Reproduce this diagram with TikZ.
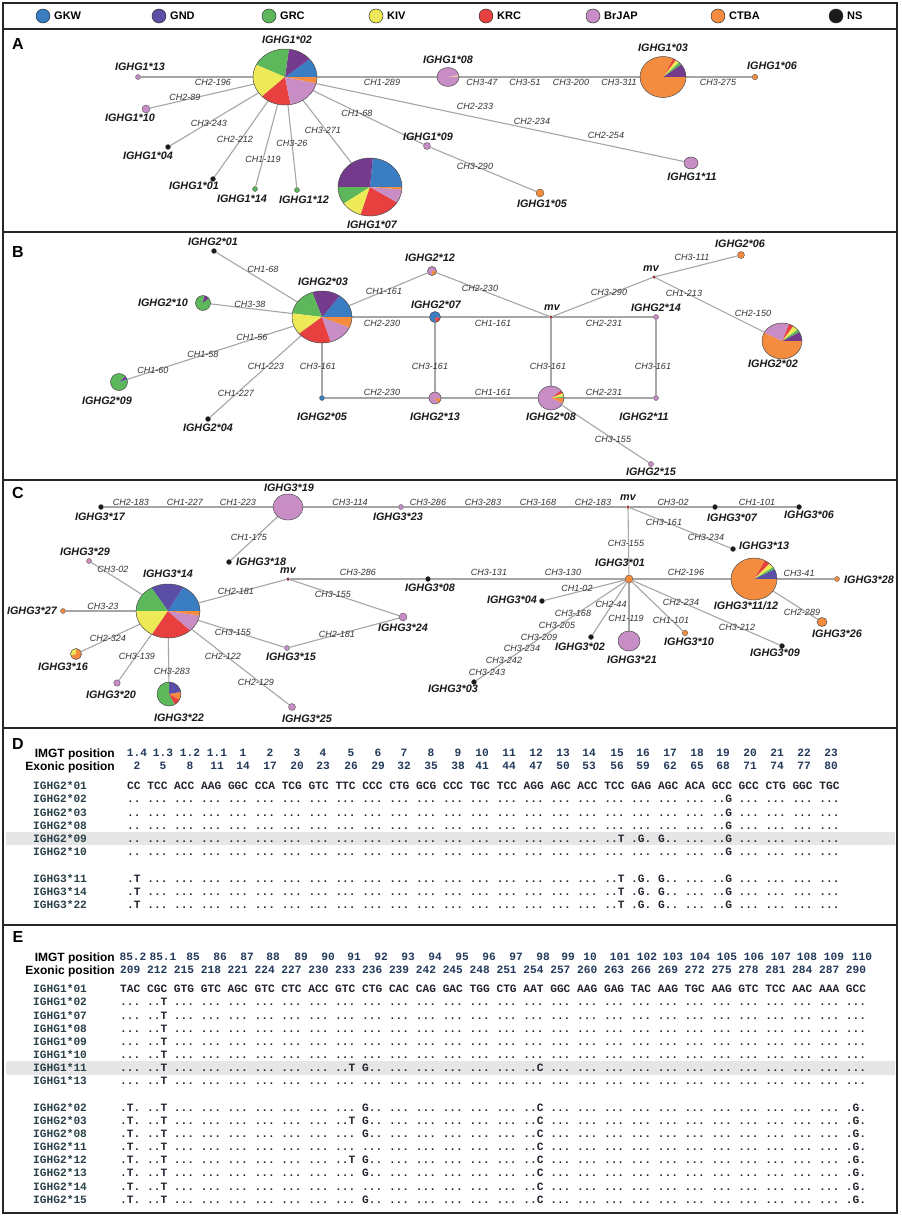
\documentclass[tikz,border=0pt]{standalone}
\usepackage{fontspec}
\setmainfont{Liberation Sans}
\setsansfont{Liberation Sans}
\setmonofont{Liberation Mono}
\usetikzlibrary{shapes.geometric}
\definecolor{cGKW}{HTML}{3A7DC2}
\definecolor{cGND}{HTML}{5B4EA6}
\definecolor{cGNDb}{HTML}{743A8C}
\definecolor{cGRC}{HTML}{5CB85A}
\definecolor{cKIV}{HTML}{EDE957}
\definecolor{cKRC}{HTML}{E8403E}
\definecolor{cBrJAP}{HTML}{C98DC6}
\definecolor{cCTBA}{HTML}{F48C40}
\definecolor{cNS}{HTML}{1A1A1A}
\definecolor{cmv}{HTML}{D42020}
\definecolor{cSeq}{HTML}{23232F}
\definecolor{cName}{HTML}{2A4048}
\definecolor{cNum}{HTML}{22395A}
\definecolor{cBand}{HTML}{E6E6E6}
\newcommand\drawpie[4]{%
  \foreach \pa/\pb/\pc in {#4}{\fill[\pc] (#1.center) -- ++(\pa:#2 and #3) arc[start angle=\pa, end angle=\pb, x radius=#2, y radius=#3] -- cycle;}
  \draw[pieline] (#1.center) ellipse[x radius=#2, y radius=#3];}
\newcommand\sev{... ... ... ... ... ... ...}
\newcommand\rowDA{.. \sev{} \sev{} \sev{} ..G ... ... ... ...}
\newcommand\rowDB{.. \sev{} \sev{} ... ... ... ..T .G. G.. ... ..G ... ... ... ...}
\newcommand\rowDC{.T \sev{} \sev{} ... ... ... ..T .G. G.. ... ..G ... ... ... ...}
\newcommand\rowEg{... ..T \sev{} \sev{} \sev{} ... ... ... ... ...}
\newcommand\rowEb{... ..T ... ... ... ... ... ... ..T G.. ... ... ... ... ... ..C \sev{} ... ... ... ... ...}
\newcommand\rowEa{.T. ..T \sev{} G.. ... ... ... ... ... ..C \sev{} ... ... ... ... .G.}
\newcommand\rowEd{.T. ..T ... ... ... ... ... ... ..T G.. ... ... ... ... ... ..C \sev{} ... ... ... ... .G.}
\newcommand\rowEc{.T. ..T \sev{} ... ... ... ... ... ... ..C \sev{} ... ... ... ... .G.}
\begin{document}
\begin{tikzpicture}[x=1pt,y=-1pt,
  conn/.style={draw=black!35, line width=1.1pt},
  pframe/.style={draw=black!85, line width=1.6pt},
  dotn/.style={circle, inner sep=0pt, draw=black!70, line width=0.35pt, fill=#1},
  pienode/.style 2 args={ellipse, inner sep=0pt, minimum width=#1, minimum height=#2},
  pieline/.style={draw=black!70, line width=0.5pt},
  nl/.style={font=\sffamily\bfseries\itshape\fontsize{10.8}{12}\selectfont, text=black!90, inner sep=0pt},
  el/.style={font=\sffamily\itshape\fontsize{9}{10}\selectfont, text=black!80, inner sep=0pt},
  plab/.style={font=\sffamily\bfseries\fontsize{16}{18}\selectfont, inner sep=0pt},
  legtext/.style={font=\sffamily\bfseries\fontsize{11}{12}\selectfont, inner sep=0pt, anchor=west},
  legdot/.style={circle, inner sep=0pt, minimum size=14pt, draw=black!80, line width=0.5pt},
  seq/.style={font=\ttfamily\bfseries\fontsize{11.2}{13}\selectfont, inner sep=0pt, anchor=base west, text=cSeq},
  rname/.style={seq, text=cName},
  num/.style={font=\ttfamily\bfseries\fontsize{11.2}{13}\selectfont, inner sep=0pt, anchor=base, text=cNum},
  head/.style={font=\sffamily\bfseries\fontsize{12}{14}\selectfont, inner sep=0pt, anchor=base east}
]
\useasboundingbox (0,0) rectangle (902,1216);
\fill[white] (0,0) rectangle (902,1216);
% frames
\draw[pframe] (3,3) rectangle (897,1213);
\foreach \yy in {29,232,480,728,925} \draw[pframe] (3,\yy) -- (897,\yy);
% legend
\foreach \xx/\cc/\tt [count=\i] in {43/cGKW/GKW,159/cGND/GND,269/cGRC/GRC,376/cKIV/KIV,486/cKRC/KRC,593/cBrJAP/BrJAP,718/cCTBA/CTBA,836/cNS/NS}{
  \node[legdot, fill=\cc] (leg\i) at (\xx,16) {};
  \node[legtext] (legt\i) at (\xx+11,16) {\tt};
}
% panel letters
\node[plab] (pA) at (18,44) {A};
\node[plab] (pB) at (18,252) {B};
\node[plab] (pC) at (18,493) {C};
\node[plab] (pD) at (18,744) {D};
\node[plab] (pE) at (18,937) {E};

%%%%%%%% Panel A
\node[pienode={64pt}{56pt}] (g102) at (285,77) {};
\node[dotn=cBrJAP, minimum size=5pt] (g113) at (138,77) {};
\node[dotn=cBrJAP, minimum size=8pt] (g110) at (146,109) {};
\node[dotn=cNS, minimum size=5pt] (g104) at (168,147) {};
\node[dotn=cNS, minimum size=5pt] (g101) at (213,179) {};
\node[dotn=cGRC, minimum size=5pt] (g114) at (255,189) {};
\node[dotn=cGRC, minimum size=5pt] (g112) at (297,190) {};
\node[pienode={64pt}{58pt}] (g107) at (370,187) {};
\node[pienode={22pt}{19pt}] (g108) at (448,77) {};
\node[pienode={46pt}{41pt}] (g103) at (663,77) {};
\node[dotn=cCTBA, minimum size=5.5pt] (g106) at (755,77) {};
\node[dotn=cBrJAP, minimum size=7pt] (g109) at (427,146) {};
\node[dotn=cCTBA, minimum size=8pt] (g105) at (540,193) {};
\node[pienode={14pt}{12pt}] (g111) at (691,163) {};
\foreach \a/\b in {g102/g113,g102/g110,g102/g104,g102/g101,g102/g114,g102/g112,g102/g107,g102/g108,g108/g103,g103/g106,g102/g109,g109/g105,g102/g111}
  \draw[conn] (\a) -- (\b);
\drawpie{g102}{32pt}{28pt}{0/40/cGKW,40/83/cGNDb,83/154/cGRC,154/224/cKIV,224/280/cKRC,280/347/cBrJAP,347/360/cCTBA}
\drawpie{g107}{32pt}{29pt}{0/85/cGKW,85/180/cGNDb,180/215/cGRC,215/253/cKIV,253/328/cKRC,328/355/cBrJAP,355/360/cCTBA}
\drawpie{g108}{11pt}{9.5pt}{0/5/cBrJAP,5/12/cKIV,12/360/cBrJAP}
\drawpie{g103}{23pt}{20.5pt}{0/38/cGNDb,38/46/cGRC,46/56/cKIV,56/64/cKRC,64/360/cCTBA}
\drawpie{g111}{7pt}{6pt}{0/360/cBrJAP}
\foreach \xx/\yy/\tt [count=\i] in {287/40/IGHG1*02,140/67/IGHG1*13,130/118/IGHG1*10,148/156/IGHG1*04,194/186/IGHG1*01,242/199/IGHG1*14,304/200/IGHG1*12,372/225/IGHG1*07,448/60/IGHG1*08,663/48/IGHG1*03,772/66/IGHG1*06,428/137/IGHG1*09,542/204/IGHG1*05,692/177/IGHG1*11}
  \node[nl] (nlA\i) at (\xx,\yy) {\tt};
\foreach \xx/\yy/\tt [count=\i] in {213/82/CH2-196,185/97/CH2-89,209/123/CH3-243,235/139/CH2-212,263/159/CH1-119,292/143/CH3-26,323/130/CH3-271,357/113/CH1-68,382/82/CH1-289,482/82/CH3-47,525/82/CH3-51,571/82/CH3-200,619/82/CH3-311,718/82/CH3-275,475/106/CH2-233,532/121/CH2-234,606/135/CH2-254,475/166/CH3-290}
  \node[el] (elA\i) at (\xx,\yy) {\tt};

%%%%%%%% Panel B
\node[pienode={60pt}{52pt}] (g203) at (322,317) {};
\node[dotn=cNS, minimum size=5pt] (g201) at (214,251) {};
\node[pienode={15pt}{15pt}] (g210) at (203,303) {};
\node[pienode={17pt}{17pt}] (g209) at (119,382) {};
\node[dotn=cNS, minimum size=5pt] (g204) at (208,419) {};
\node[dotn=cGKW, minimum size=5pt] (g205) at (322,398) {};
\node[pienode={12pt}{12pt}] (g213) at (435,398) {};
\node[pienode={11pt}{11pt}] (g207) at (435,317) {};
\node[pienode={9pt}{9pt}] (g212) at (432,271) {};
\node[dotn=cmv, minimum size=3pt] (mvB1) at (551,317) {};
\node[dotn=cBrJAP, minimum size=5pt] (g214) at (656,317) {};
\node[dotn=cBrJAP, minimum size=5pt] (g211) at (656,398) {};
\node[pienode={26pt}{24pt}] (g208) at (551,398) {};
\node[dotn=cBrJAP, minimum size=5pt] (g215) at (651,464) {};
\node[dotn=cmv, minimum size=3pt] (mvB2) at (654,277) {};
\node[dotn=cCTBA, minimum size=7pt] (g206) at (741,255) {};
\node[pienode={40pt}{36pt}] (g202) at (782,341) {};
\foreach \a/\b in {g203/g201,g203/g210,g203/g209,g203/g204,g203/g205,g203/g212,g203/g207,g205/g213,g207/g213,g212/mvB1,g207/mvB1,mvB1/mvB2,mvB1/g214,mvB1/g208,g214/g211,g213/g208,g208/g211,g208/g215,mvB2/g206,mvB2/g202}
  \draw[conn] (\a) -- (\b);
\drawpie{g203}{30pt}{26pt}{0/54/cGKW,54/109/cGNDb,109/172/cGRC,172/220/cKIV,220/287/cKRC,287/336/cBrJAP,336/360/cCTBA}
\drawpie{g210}{7.5pt}{7.5pt}{0/40/cGRC,40/85/cGNDb,85/360/cGRC}
\drawpie{g209}{8.5pt}{8.5pt}{0/15/cGRC,15/22/cGKW,22/45/cGNDb,45/360/cGRC}
\drawpie{g213}{6pt}{6pt}{0/300/cBrJAP,300/355/cCTBA,355/360/cBrJAP}
\drawpie{g207}{5.5pt}{5.5pt}{0/280/cGKW,280/350/cKRC,350/360/cGKW}
\drawpie{g212}{4.5pt}{4.5pt}{0/270/cBrJAP,270/360/cCTBA}
\drawpie{g208}{13pt}{12pt}{0/8/cGRC,8/25/cKIV,25/40/cKRC,40/335/cBrJAP,335/360/cCTBA}
\drawpie{g202}{20pt}{18pt}{0/30/cGNDb,30/40/cGRC,40/56/cKIV,56/70/cKRC,70/153/cBrJAP,153/360/cCTBA}
\foreach \xx/\yy/\tt [count=\i] in {213/242/IGHG2*01,323/282/IGHG2*03,163/303/IGHG2*10,107/401/IGHG2*09,208/428/IGHG2*04,322/417/IGHG2*05,435/417/IGHG2*13,436/305/IGHG2*07,430/258/IGHG2*12,552/308/mv,656/308/IGHG2*14,644/417/IGHG2*11,551/417/IGHG2*08,651/472/IGHG2*15,651/269/mv,740/244/IGHG2*06,773/364/IGHG2*02}
  \node[nl] (nlB\i) at (\xx,\yy) {\tt};
\foreach \xx/\yy/\tt [count=\i] in {263/269/CH1-68,250/304/CH3-38,252/337/CH1-56,203/354/CH1-58,153/370/CH1-60,266/366/CH1-223,236/393/CH1-227,318/366/CH3-161,384/291/CH1-161,382/323/CH2-230,382/392/CH2-230,430/366/CH3-161,480/288/CH2-230,493/323/CH1-161,493/392/CH1-161,609/292/CH3-290,604/323/CH2-231,604/392/CH2-231,548/366/CH3-161,653/366/CH3-161,613/439/CH3-155,692/257/CH3-111,684/293/CH1-213,753/313/CH2-150}
  \node[el] (elB\i) at (\xx,\yy) {\tt};

%%%%%%%% Panel C
\node[dotn=cNS, minimum size=5pt] (g317) at (101,507) {};
\node[pienode={30pt}{26pt}] (g319) at (288,507) {};
\node[dotn=cBrJAP, minimum size=5pt] (g323) at (401,507) {};
\node[dotn=cmv, minimum size=3pt] (mvC1) at (628,507) {};
\node[dotn=cNS, minimum size=5pt] (g307) at (715,507) {};
\node[dotn=cNS, minimum size=5pt] (g306) at (799,507) {};
\node[dotn=cNS, minimum size=5pt] (g313) at (733,549) {};
\node[dotn=cCTBA, minimum size=8pt] (g301) at (629,579) {};
\node[dotn=cNS, minimum size=5pt] (g308) at (428,579) {};
\node[dotn=cmv, minimum size=3pt] (mvC2) at (288,579) {};
\node[dotn=cBrJAP, minimum size=8pt] (g324) at (403,617) {};
\node[dotn=cBrJAP, minimum size=5pt] (g315) at (287,648) {};
\node[pienode={64pt}{54pt}] (g314) at (168,611) {};
\node[dotn=cBrJAP, minimum size=5pt] (g329) at (89,561) {};
\node[dotn=cCTBA, minimum size=5pt] (g327) at (63,611) {};
\node[pienode={11pt}{11pt}] (g316) at (76,654) {};
\node[dotn=cBrJAP, minimum size=6.5pt] (g320) at (117,683) {};
\node[pienode={24pt}{24pt}] (g322) at (169,694) {};
\node[dotn=cBrJAP, minimum size=7pt] (g325) at (292,707) {};
\node[dotn=cNS, minimum size=5pt] (g318) at (229,562) {};
\node[dotn=cNS, minimum size=5pt] (g304) at (542,601) {};
\node[dotn=cNS, minimum size=5pt] (g303) at (474,682) {};
\node[dotn=cNS, minimum size=5pt] (g302) at (591,637) {};
\node[pienode={22pt}{20pt}] (g321) at (629,641) {};
\node[dotn=cCTBA, minimum size=5.5pt] (g310) at (685,633) {};
\node[dotn=cNS, minimum size=5pt] (g309) at (782,646) {};
\node[pienode={46pt}{42pt}] (g311) at (754,579) {};
\node[dotn=cCTBA, minimum size=5pt] (g328) at (837,579) {};
\node[pienode={10pt}{9pt}] (g326) at (822,622) {};
\foreach \a/\b in {g317/g319,g319/g323,g323/mvC1,mvC1/g307,g307/g306,mvC1/g313,mvC1/g301,g319/g318,g308/g301,mvC2/g308,g314/mvC2,mvC2/g324,g314/g315,g315/g324,g314/g329,g314/g327,g314/g316,g314/g320,g314/g322,g314/g325,g301/g304,g301/g303,g301/g302,g301/g321,g301/g310,g301/g309,g301/g311,g311/g328,g311/g326}
  \draw[conn] (\a) -- (\b);
\drawpie{g319}{15pt}{13pt}{0/360/cBrJAP}
\drawpie{g314}{32pt}{27pt}{0/62/cGKW,62/121/cGND,121/180/cGRC,180/240/cKIV,240/314/cKRC,314/350/cBrJAP,350/360/cCTBA}
\drawpie{g316}{5.5pt}{5.5pt}{0/90/cCTBA,90/200/cKIV,200/360/cCTBA}
\drawpie{g322}{12pt}{12pt}{-30/10/cCTBA,10/90/cGND,90/300/cGRC,300/330/cKRC}
\drawpie{g321}{11pt}{10pt}{0/360/cBrJAP}
\drawpie{g311}{23pt}{21pt}{0/28/cGND,28/35/cGRC,35/48/cKIV,48/62/cKRC,62/360/cCTBA}
\drawpie{g326}{5pt}{4.5pt}{0/360/cCTBA}
\foreach \xx/\yy/\tt [count=\i] in {100/517/IGHG3*17,289/488/IGHG3*19,398/517/IGHG3*23,628/498/mv,732/518/IGHG3*07,809/515/IGHG3*06,620/563/IGHG3*01,430/588/IGHG3*08,288/571/mv,403/628/IGHG3*24,291/657/IGHG3*15,168/574/IGHG3*14,85/552/IGHG3*29,32/611/IGHG3*27,63/667/IGHG3*16,111/695/IGHG3*20,179/718/IGHG3*22,307/719/IGHG3*25,512/600/IGHG3*04,453/689/IGHG3*03,580/647/IGHG3*02,632/660/IGHG3*21,689/642/IGHG3*10,775/653/IGHG3*09,869/580/IGHG3*28,837/634/IGHG3*26}
  \node[nl] (nlC\i) at (\xx,\yy) {\tt};
\node[nl] (nlC1112) at (746,606) {IGHG3*11/12};
\node[nl, anchor=west] (nlC13) at (739,546) {IGHG3*13};
\node[nl, anchor=west] (nlC18) at (236,562) {IGHG3*18};
\foreach \xx/\yy/\tt [count=\i] in {131/502/CH2-183,185/502/CH1-227,238/502/CH1-223,350/502/CH3-114,428/502/CH3-286,483/502/CH3-283,538/502/CH3-168,593/502/CH2-183,673/502/CH3-02,757/502/CH1-101,664/522/CH3-161,706/537/CH3-234,626/543/CH3-155,249/537/CH1-175,113/569/CH3-02,103/606/CH3-23,108/638/CH2-324,137/656/CH3-139,172/671/CH3-283,223/656/CH2-122,256/682/CH2-129,236/591/CH2-181,358/572/CH3-286,333/594/CH3-155,233/632/CH3-155,337/634/CH2-181,489/572/CH3-131,563/572/CH3-130,577/588/CH1-02,611/604/CH2-44,573/613/CH3-168,557/625/CH3-205,539/637/CH3-209,522/648/CH3-234,504/660/CH3-242,487/672/CH3-243,626/618/CH1-119,671/620/CH1-101,681/602/CH2-234,737/627/CH3-212,686/572/CH2-196,799/573/CH3-41,802/612/CH2-289}
  \node[el] (elC\i) at (\xx,\yy) {\tt};

%%%%%%%% Panel D
\fill[cBand] (6,832.2) rectangle (895,845.4);
\node[head] (dh1) at (115,757.3) {IMGT position};
\node[head] (dh2) at (115,770.3) {Exonic position};
\foreach \xx/\lab [count=\i] in {137/1.4,163/1.3,190/1.2,217/1.1,243/1,270/2,297/3,323/4,351/5,378/6,404/7,431/8,458/9,482/10,509/11,536/12,563/13,589/14,617/15,643/16,670/17,697/18,723/19,750/20,777/21,804/22,831/23}{
  \pgfmathtruncatemacro\ex{2+3*(\i-1)}
  \node[num] (dI\i) at (\xx,756.7) {\lab};
  \node[num] (dE\i) at (\xx,769.7) {\ex};
}
\node[rname] (nD1) at (33,789.7) {IGHG2*01};
\node[seq] (sD1) at (127,789.7) {CC TCC ACC AAG GGC CCA TCG GTC TTC CCC CTG GCG CCC TGC TCC AGG AGC ACC TCC GAG AGC ACA GCC GCC CTG GGC TGC};
\node[rname] (nD2) at (33,802.9) {IGHG2*02};
\node[seq] (sD2) at (127,802.9) {\rowDA};
\node[rname] (nD3) at (33,816.1) {IGHG2*03};
\node[seq] (sD3) at (127,816.1) {\rowDA};
\node[rname] (nD4) at (33,829.3) {IGHG2*08};
\node[seq] (sD4) at (127,829.3) {\rowDA};
\node[rname] (nD5) at (33,842.5) {IGHG2*09};
\node[seq] (sD5) at (127,842.5) {\rowDB};
\node[rname] (nD6) at (33,855.7) {IGHG2*10};
\node[seq] (sD6) at (127,855.7) {\rowDA};
\node[rname] (nD7) at (33,882.1) {IGHG3*11};
\node[seq] (sD7) at (127,882.1) {\rowDC};
\node[rname] (nD8) at (33,895.3) {IGHG3*14};
\node[seq] (sD8) at (127,895.3) {\rowDC};
\node[rname] (nD9) at (33,908.5) {IGHG3*22};
\node[seq] (sD9) at (127,908.5) {\rowDC};

%%%%%%%% Panel E
\fill[cBand] (6,1061.3) rectangle (895,1074.5);
\node[head] (eh1) at (115,961.3) {IMGT position};
\node[head] (eh2) at (115,974.3) {Exonic position};
\foreach \xx/\lab [count=\i] in {133/85.2,163/85.1,193/85,220/86,247/87,273/88,301/89,328/90,354/91,381/92,408/93,435/94,462/95,489/96,516/97,543/98,568/99,590/10,620/101,647/102,673/103,700/104,727/105,754/106,781/107,807/108,834/109,862/110}
  \node[num] (eI\i) at (\xx,960.7) {\lab};
\node[seq, text=cNum] (eE) at (120,973.7) {209 212 215 218 221 224 227 230 233 236 239 242 245 248 251 254 257 260 263 266 269 272 275 278 281 284 287 290};
\node[rname] (nE1) at (33,992.7) {IGHG1*01};
\node[seq] (sE1) at (120,992.7) {TAC CGC GTG GTC AGC GTC CTC ACC GTC CTG CAC CAG GAC TGG CTG AAT GGC AAG GAG TAC AAG TGC AAG GTC TCC AAC AAA GCC};
\foreach \nm/\yy [count=\i] in {IGHG1*02/1005.9,IGHG1*07/1019.0,IGHG1*08/1032.2,IGHG1*09/1045.3,IGHG1*10/1058.5}{
  \node[rname] (nEa\i) at (33,\yy) {\nm};
  \node[seq] (sEa\i) at (120,\yy) {\rowEg};
}
\node[rname] (nE11) at (33,1071.6) {IGHG1*11};
\node[seq] (sE11) at (120,1071.6) {\rowEb};
\node[rname] (nE13) at (33,1084.8) {IGHG1*13};
\node[seq] (sE13) at (120,1084.8) {\rowEg};
\node[rname] (nF1) at (33,1111.1) {IGHG2*02};
\node[seq] (sF1) at (120,1111.1) {\rowEa};
\node[rname] (nF2) at (33,1124.2) {IGHG2*03};
\node[seq] (sF2) at (120,1124.2) {\rowEd};
\node[rname] (nF3) at (33,1137.4) {IGHG2*08};
\node[seq] (sF3) at (120,1137.4) {\rowEa};
\node[rname] (nF4) at (33,1150.6) {IGHG2*11};
\node[seq] (sF4) at (120,1150.6) {\rowEc};
\node[rname] (nF5) at (33,1163.7) {IGHG2*12};
\node[seq] (sF5) at (120,1163.7) {\rowEd};
\node[rname] (nF6) at (33,1176.9) {IGHG2*13};
\node[seq] (sF6) at (120,1176.9) {\rowEa};
\node[rname] (nF7) at (33,1190.0) {IGHG2*14};
\node[seq] (sF7) at (120,1190.0) {\rowEc};
\node[rname] (nF8) at (33,1203.2) {IGHG2*15};
\node[seq] (sF8) at (120,1203.2) {\rowEa};
\end{tikzpicture}
\end{document}
